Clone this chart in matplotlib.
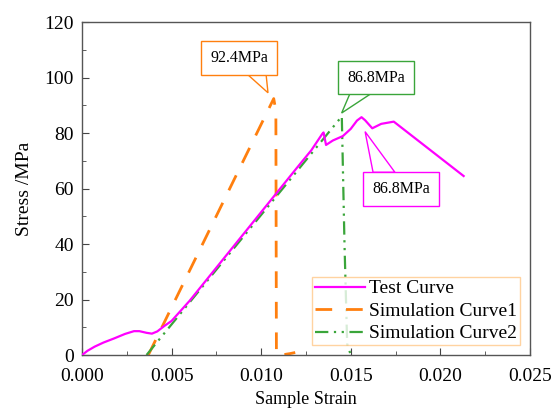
import numpy as np
import matplotlib
matplotlib.use('Agg')
import matplotlib.pyplot as plt
from matplotlib.patches import Polygon
from matplotlib.ticker import MultipleLocator, FormatStrFormatter

plt.rcParams['font.family'] = ['Liberation Serif', 'DejaVu Serif']

# Test curve (strain, stress)
test_strain = [0.0, 0.0003, 0.0007, 0.0012, 0.0018, 0.0024, 0.0029, 0.0032, 0.0036, 0.0039,
               0.0042, 0.0046, 0.0050, 0.0060, 0.0070, 0.0080, 0.0090, 0.0100, 0.0110,
               0.0120, 0.0128, 0.0134, 0.01348, 0.01362, 0.0140, 0.01456, 0.0150, 0.01535,
               0.0156, 0.0158, 0.0162, 0.0167, 0.0174, 0.0213]
test_stress = [0.0, 1.5, 3.0, 4.5, 6.0, 7.6, 8.6, 8.6, 8.0, 7.7,
               8.5, 10.5, 12.3, 19.5, 27.5, 35.5, 43.5, 51.5, 59.5,
               67.5, 73.8, 79.6, 80.2, 75.7, 77.3, 78.9, 81.5, 84.5,
               85.7, 84.6, 81.7, 83.3, 84.1, 64.5]

# Simulation curve 1
sim1_strain = [0.0037, 0.0107, 0.01082, 0.01085, 0.0113, 0.0116, 0.0119]
sim1_stress = [0.0, 92.4, 88.0, 0.0, 0.2, 0.5, 0.9]

# Simulation curve 2
sim2_strain = [0.0036, 0.0145, 0.01465, 0.0148, 0.0150]
sim2_stress = [0.0, 86.0, 40.0, 4.0, 0.0]

# callouts: text, box centre, pointer tip, colour, pointer base (fraction of box width), side
callouts = [
    ('92.4MPa', (0.00876, 107.0), (0.01038, 94.5), '#ff7f0e', (0.62, 0.86), 'bottom'),
    ('86.8MPa', (0.01641, 100.0), (0.01449, 87.2), '#3aa53a', (0.15, 0.42), 'bottom'),
    ('86.8MPa', (0.01780, 59.8), (0.01580, 80.5), '#ff00ff', (0.13, 0.42), 'top'),
]

fig = plt.figure(figsize=(5.52, 4.13), dpi=100)
ax = fig.add_axes([0.1486, 0.1404, 0.8114, 0.8063])

ax.plot(test_strain, test_stress, color='#ff00ff', lw=1.6, label='Test Curve', zorder=3)
ax.plot(sim1_strain, sim1_stress, color='#ff7f0e', lw=2.0, dashes=(6, 5), label='Simulation Curve1')
ax.plot(sim2_strain, sim2_stress, color='#3aa53a', lw=1.6, dashes=(6, 2.5, 1, 2.5, 1, 2.5),
        label='Simulation Curve2')

ax.set_xlim(0, 0.025)
ax.set_ylim(0, 120)
ax.xaxis.set_major_locator(MultipleLocator(0.005))
ax.xaxis.set_minor_locator(MultipleLocator(0.0025))
ax.xaxis.set_major_formatter(FormatStrFormatter('%.3f'))
ax.yaxis.set_major_locator(MultipleLocator(20))
ax.yaxis.set_minor_locator(MultipleLocator(10))
ax.tick_params(which='both', direction='in', top=False, right=False, color='#444444')
ax.tick_params(which='major', length=5, labelsize=14)
ax.tick_params(axis='x', which='major', pad=9)
ax.tick_params(axis='y', which='major', pad=6)
ax.tick_params(which='minor', length=3)
for s in ax.spines.values():
    s.set_color('#555555')
    s.set_linewidth(1.0)

ax.set_xlabel('Sample Strain', fontsize=13, labelpad=5)
ax.set_ylabel('Stress /MPa', fontsize=14, labelpad=8)

# boxes first, then pointer polygons computed from the drawn box size
texts = []
for txt, pos, tip, col, base, side in callouts:
    t = ax.text(pos[0], pos[1], txt, fontsize=11.5, ha='center', va='center', zorder=6,
                bbox=dict(boxstyle='square,pad=0.55', fc='white', ec=col, lw=1.0))
    texts.append(t)

fig.canvas.draw()
inv = ax.transData.inverted()
for t, (txt, pos, tip, col, base, side) in zip(texts, callouts):
    bb = t.get_bbox_patch().get_window_extent()
    yb = bb.y0 if side == 'bottom' else bb.y1
    p1 = inv.transform((bb.x0 + base[0] * bb.width, yb))
    p2 = inv.transform((bb.x0 + base[1] * bb.width, yb))
    poly = Polygon([p1, tip, p2], closed=True, fc='white', ec=col, lw=1.0, zorder=5)
    ax.add_patch(poly)

leg = ax.legend(loc='lower right', fontsize=14, frameon=True, fancybox=False,
                handlelength=2.6, handletextpad=0.2, borderpad=0.15, labelspacing=0.25,
                borderaxespad=0.5)
leg.get_frame().set_edgecolor('#ffc88a')
leg.get_frame().set_linewidth(1.0)

fig.savefig('out.png', dpi=100)
